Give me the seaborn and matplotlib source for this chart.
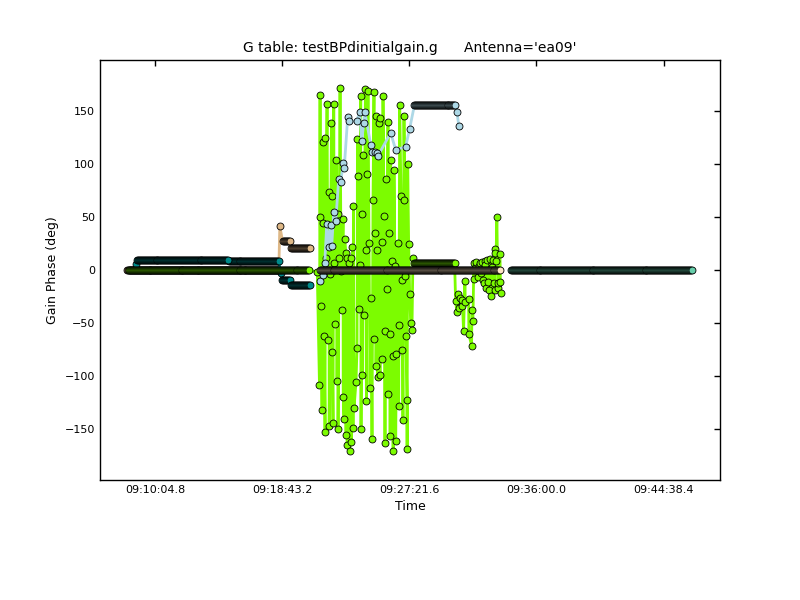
import numpy as np
import matplotlib
matplotlib.use("Agg")
import matplotlib.pyplot as plt
from matplotlib.ticker import FixedLocator, FixedFormatter
import seaborn as sns

# times: seconds after 09:00:00, phases in degrees
tick_secs = [604.8, 1123.2, 1641.6, 2160.0, 2678.4]
tick_labels = ["09:10:04.8", "09:18:43.2", "09:27:21.6", "09:36:00.0", "09:44:38.4"]
y_ticks = [-150, -100, -50, 0, 50, 100, 150]

step = 4.0  # spacing of the integrations in the long flat runs

# flat runs (start, end, phase) and single points for each series
tan_runs = [(490.8, 1109.7, 0.0), (1124.8, 1154.5, 27.5), (1161.3, 1236.0, 20.7)]
tan_t = [1113.8]
tan_v = [41.0]

teal_b_runs = [(905.5, 1109.7, 8.1), (1124.0, 1154.5, -9.1), (1160.6, 1236.0, -13.8)]
teal_b_t = [1116.7]
teal_b_v = [-2.8]

teal_a_runs = [(531.5, 902.1, 9.0)]
teal_a_t = [527.0]
teal_a_v = [5.6]

green_runs = [(500.7, 1234.0, 0.0), (1662.5, 1826.4, 7.0)]
green_t = [1266.5, 1275.5, 1277.9, 1278.6, 1282.0, 1286.0, 1290.1, 1291.8, 1294.2, 1298.3,
           1300.0, 1300.6, 1306.4, 1310.5, 1314.5, 1315.1, 1320.3, 1324.3, 1326.8, 1327.4,
           1330.8, 1333.7, 1334.9, 1339.0, 1344.8, 1347.1, 1350.0, 1351.2, 1355.3, 1359.4,
           1363.4, 1367.5, 1371.6, 1372.2, 1375.6, 1378.5, 1382.6, 1383.8, 1387.9, 1388.5,
           1394.8, 1398.9, 1404.1, 1404.7, 1409.9, 1412.3, 1413.9, 1416.4, 1424.5, 1428.6,
           1430.3, 1432.6, 1436.7, 1440.8, 1443.7, 1444.9, 1448.9, 1449.5, 1451.8, 1455.9,
           1462.8, 1464.0, 1466.9, 1469.3, 1473.4, 1477.4, 1481.5, 1485.6, 1489.7, 1493.7,
           1497.8, 1498.4, 1503.6, 1504.8, 1506.0, 1510.0, 1512.9, 1517.0, 1522.2, 1523.9,
           1530.4, 1532.1, 1534.5, 1538.5, 1541.4, 1542.6, 1545.5, 1552.4, 1554.8, 1555.4,
           1558.9, 1563.0, 1563.6, 1565.8, 1571.1, 1575.2, 1575.8, 1579.3, 1583.3, 1586.2,
           1589.1, 1594.3, 1598.4, 1599.7, 1602.5, 1607.8, 1611.8, 1612.4, 1615.9, 1618.8,
           1620.0, 1625.7, 1628.1, 1632.2, 1632.8, 1635.1, 1639.1, 1643.2, 1647.3, 1652.6,
           1656.6,
           1830.5, 1835.7, 1839.8, 1843.9, 1849.6, 1856.1, 1857.7, 1863.0, 1868.3, 1869.9,
           1883.4, 1884.6, 1895.7, 1896.9, 1900.9, 1905.0, 1905.6, 1911.0, 1915.2, 1921.3,
           1924.0, 1928.2, 1934.0, 1939.2, 1941.6, 1945.7, 1948.6, 1952.0, 1955.5, 1959.6,
           1962.0, 1964.8, 1968.9, 1975.8, 1978.0, 1982.3, 1986.4, 1989.3, 1990.5, 1992.1,
           1995.0, 1998.6, 2002.7, 2003.3, 2011.3, 2013.0, 2014.2]
green_v = [-2, -108, 165, 50, -34, -132, 120, 44, -62, -152,
           124, 11, 156, -66, 73, -147, -4, 138, 70, -77,
           -144, 156, 7, -51, 103, -104, 53, -150, 11, 171,
           -1, -38, 48, -119, -140, 29, 16, -155, 11, -165,
           7, -170, 11, -162, 22, -149, 60, -130, -105, -73,
           123, 88, -37, 5, 164, -150, 53, -99, 108, -42,
           170, 19, -123, 90, 168, 25, -111, -26, -159, 66,
           167, -65, 35, 145, -90, 19, -101, 138, -99, 143,
           26, -84, 164, 51, -57, -163, 86, -18, 139, -117,
           35, -60, -156, 103, 8, -81, -170, 94, 4, -161,
           -79, 25, -128, -52, 155, 70, -75, -9, -141, 66,
           145, -6, -62, -122, -168, 100, 24, -23, -50, -56,
           11,
           -29.6, -39.9, -22.6, -35.8, -26.4, -34.3, -28.6, -57.2, -10.0, -30.1,
           -27.0, -60.3, -71.3, -37.4, -47.7, 6.6, -8.2, 2.0, 7.5, -7.0,
           4.0, 6.6, -3.0, 7.2, -9.1, -12.2, 8.1, 5.0, -17.0, 9.7,
           -11.3, -18.5, 10.4, -24.9, 3.0, 9.7, -12.2, -19.2, 20.0, 16.0,
           8.0, 50.2, -17.0, -12.2, 15.3, -11.3, -21.7]

lblue_runs = [(1662.5, 1829.2, 155.0)]
lblue_t = [1279.6, 1288.1, 1297.1, 1305.2, 1313.3, 1321.5, 1325.6, 1333.7, 1341.9, 1354.1,
           1362.2, 1372.4, 1376.5, 1390.7, 1396.8, 1427.4, 1439.6, 1447.7, 1455.9, 1460.0,
           1484.4, 1488.5, 1500.7, 1508.8, 1512.9, 1565.8, 1586.2, 1626.9, 1643.2,
           1835.7, 1843.9]
lblue_v = [-10, -4.5, 7, 43.6, 22, 42, 23, 55, 46, 86,
           83, 101, 96, 144, 140, 140, 149, 121, 138, 149,
           118, 111, 111, 110, 107, 129, 113, 116, 133,
           149, 135]

bisque_runs = [(1276.7, 2013.0, 0.0)]
mint_runs = [(2056.5, 2792.7, 0.0)]


def build(runs, t_pts=(), v_pts=()):
    ts = list(t_pts)
    vs = list(v_pts)
    for t0, t1, v in runs:
        n = int(round((t1 - t0) / step)) + 1
        ts += list(np.linspace(t0, t1, n))
        vs += [v] * n
    order = np.argsort(ts, kind="stable")
    return np.array(ts)[order], np.array(vs, dtype=float)[order]


series = [
    (build(tan_runs, tan_t, tan_v), "#DEB887"),
    (build(teal_b_runs, teal_b_t, teal_b_v), "#008B8B"),
    (build(teal_a_runs, teal_a_t, teal_a_v), "#008B8B"),
    (build(green_runs, green_t, green_v), "#7CFC00"),
    (build(lblue_runs, lblue_t, lblue_v), "#ADD8E6"),
    (build(bisque_runs), "#FFE4C4"),
    (build(mint_runs), "#66CDAA"),
]

sns.set_style("white")
plt.rcParams["font.family"] = ["DejaVu Sans"]
plt.rcParams["text.color"] = "black"
plt.rcParams["axes.labelcolor"] = "black"

fig = plt.figure(figsize=(8, 6), dpi=100)
ax = fig.add_axes([0.125, 0.2, 0.775, 0.7])

for (t, v), col in series:
    sns.lineplot(x=t, y=v, color=col, marker="o", markersize=5,
                 markeredgecolor="black", markeredgewidth=0.6, linewidth=2,
                 estimator=None, sort=False, ax=ax)

ax.set_xlim(380.8, 2908.3)
ax.set_ylim(-197.5, 197.5)
ax.xaxis.set_major_locator(FixedLocator(tick_secs))
ax.xaxis.set_major_formatter(FixedFormatter(tick_labels))
ax.set_yticks(y_ticks)
ax.set_yticklabels([str(v).replace("-", "\u2212") for v in y_ticks])
ax.tick_params(direction="in", top=True, right=True, length=4, width=1,
               labelsize=8, colors="black")
for s in ax.spines.values():
    s.set_color("black")
    s.set_linewidth(1)

ax.set_title("G table: testBPdinitialgain.g      Antenna='ea09'", fontsize=10, color="black")
ax.set_xlabel("Time", fontsize=9)
ax.set_ylabel("Gain Phase (deg)", fontsize=9)

fig.savefig("out.png", dpi=100, facecolor="white")
